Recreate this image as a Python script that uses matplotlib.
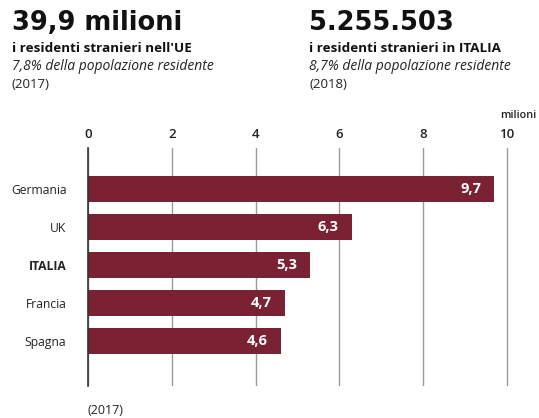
import matplotlib
matplotlib.use('Agg')
import matplotlib.pyplot as plt

paesi = ['Germania', 'UK', 'ITALIA', 'Francia', 'Spagna']
residenti = [9.7, 6.3, 5.3, 4.7, 4.6]
etichette = ['9,7', '6,3', '5,3', '4,7', '4,6']
tick_vals = [0, 2, 4, 6, 8, 10]

plt.rcParams['font.family'] = ['Open Sans', 'DejaVu Sans']
bordeaux = '#7a2134'

fig = plt.figure(figsize=(5.39, 4.18), dpi=100)
# un po' di margine oltre il 10 perché la griglia finale non venga tagliata
ax = fig.add_axes([88/539, 1 - 386/418, (509 - 88)/539, (386 - 148)/418])

pos = list(range(len(paesi)))
ax.barh(pos, residenti, height=0.70, color=bordeaux, zorder=3)
for p, v, lab in zip(pos, residenti, etichette):
    ax.text(v - 0.31, p, lab, ha='right', va='center', color='white',
            fontsize=10.5, fontweight='bold', zorder=4)

ax.set_xlim(0, 10.05)
ax.set_ylim(5.18, -1.08)
ax.set_yticks(pos)
ax.set_yticklabels(paesi, fontsize=8.7, color='#222222')
for t in ax.get_yticklabels():
    if t.get_text() == 'ITALIA':
        t.set_fontweight('bold')
ax.tick_params(axis='y', length=0, pad=15.5)

ax.xaxis.tick_top()
ax.set_xticks(tick_vals)
ax.set_xticklabels([str(v) for v in tick_vals], fontsize=9.5, fontweight='semibold')
ax.tick_params(axis='x', length=0, pad=5, colors='#222222')
ax.grid(axis='x', color='#9a9a9a', linewidth=1.0, zorder=0)
for s in ['top', 'right', 'bottom']:
    ax.spines[s].set_visible(False)
ax.spines['left'].set_color('#333333')
ax.spines['left'].set_linewidth(1.2)
ax.spines['left'].set_zorder(5)

fig.text(500/539, 1 - 116/418, 'milioni', fontsize=7.8, fontweight='semibold',
         ha='left', va='center', color='#222222')
fig.text(87/539, 1 - 411/418, '(2017)', fontsize=9, ha='left', va='center', color='#222222')

# intestazione: UE a sinistra, Italia a destra
for x0, big, sub, perc, anno in [
        (12, '39,9 milioni', "i residenti stranieri nell'UE", '7,8% della popolazione residente', '(2017)'),
        (309, '5.255.503', 'i residenti stranieri in ITALIA', '8,7% della popolazione residente', '(2018)')]:
    fx = x0 / 539
    fig.text(fx, 1 - 23/418, big, fontsize=18.5, fontweight='bold', family='DejaVu Sans',
             ha='left', va='center', color='#111111')
    fig.text(fx, 1 - 48/418, sub, fontsize=9.7, fontweight='bold', ha='left', va='center', color='#111111')
    fig.text(fx, 1 - 66/418, perc, fontsize=10, style='italic', ha='left', va='center', color='#222222')
    fig.text(fx, 1 - 85/418, anno, fontsize=9.5, ha='left', va='center', color='#222222')

fig.savefig('out.png', dpi=100, facecolor='white')
